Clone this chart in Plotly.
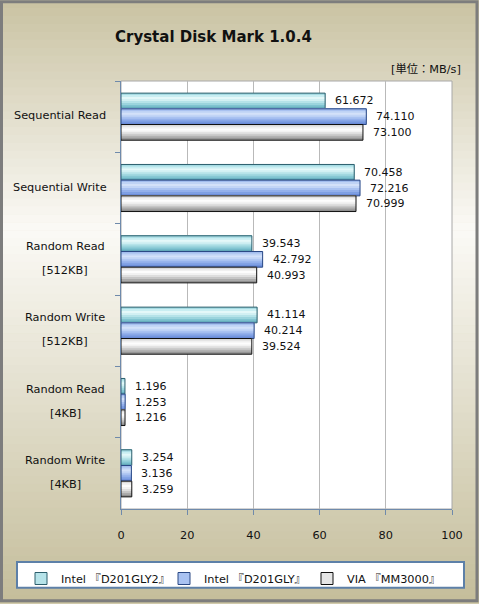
import numpy as np
import plotly.graph_objects as go

# ---------------- data ----------------
categories = ["Sequential Read", "Sequential Write", "Random Read [512KB]",
              "Random Write [512KB]", "Random Read [4KB]", "Random Write [4KB]"]
label_line1 = ["Sequential Read", "Sequential Write", "Random Read",
               "Random Write", "Random Read", "Random Write"]
label_line2 = ["", "", "[512KB]", "[512KB]", "[4KB]", "[4KB]"]
series_names = ["Intel 『D201GLY2』", "Intel 『D201GLY』", "VIA 『MM3000』"]
intel_d201gly2 = [61.672, 70.458, 39.543, 41.114, 1.196, 3.254]
intel_d201gly = [74.110, 72.216, 42.792, 40.214, 1.253, 3.136]
via_mm3000 = [73.100, 70.999, 40.993, 39.524, 1.216, 3.259]
series_values = [intel_d201gly2, intel_d201gly, via_mm3000]
x_ticks = [0, 20, 40, 60, 80, 100]

# ---------------- styling ----------------
W, H = 479, 604
ML, MR, MT, MB = 121, 27, 81, 94
PW, PH = W - ML - MR, H - MT - MB
FONT = "DejaVu Sans, Noto Sans CJK JP"
AXC = "#6f8aab"


def px_x(p):
    return (p - ML) / PW


def px_y(p):
    return (H - MB - p) / PH


profiles = [
    ["#a6dbe3", "#c9eef2", "#e4f8f9", "#d2f0f3", "#b6e3e9", "#9bd4dd", "#80c4d1", "#66adbd"],
    ["#a2bdee", "#bfd3f5", "#d3e1f9", "#c2d5f6", "#a9c2f1", "#93b0eb", "#7e9fe3", "#6b8cd9"],
    ["#dadada", "#f1f1f1", "#fdfdfd", "#f2f2f2", "#dedede", "#c6c6c6", "#ababab", "#8f8f8f"],
]
legend_fill = ["#b6e3e9", "#a9c2f1", "#e6e6e6"]
outlines = ["#2c5e6c", "#2a4884", "#111111"]
bw = 0.22
N = len(profiles[0])

fig = go.Figure()
for s, vals in enumerate(series_values):
    c = (s - 1) * bw
    top = c - bw / 2
    for k in range(N):
        wk = bw * (N - k) / N
        fig.add_trace(go.Bar(
            x=vals, y=categories, orientation="h",
            width=wk, offset=top,
            marker=dict(color=profiles[s][N - 1 - k], line=dict(width=0)),
            showlegend=False, hoverinfo="skip"))
    fig.add_trace(go.Bar(
        x=vals, y=categories, orientation="h", width=bw, offset=top,
        marker=dict(color="rgba(0,0,0,0)", line=dict(color=outlines[s], width=1)),
        showlegend=False, name=series_names[s]))
    # legend entry
    fig.add_trace(go.Bar(
        x=[None], y=[None], orientation="h", name=series_names[s],
        marker=dict(color=legend_fill[s], line=dict(color=outlines[s], width=1)),
        showlegend=True))

annotations = []
shifts = [-15.7, 0, 15.7]
for s, vals in enumerate(series_values):
    for cat, v in zip(categories, vals):
        annotations.append(dict(
            x=v, y=cat, xref="x", yref="y", text=f"{v:.3f}", showarrow=False,
            xanchor="left", yanchor="middle", xshift=8, yshift=-shifts[s],
            font=dict(family=FONT, size=11, color="#111")))

LBL = 11.3
for cat, l1, l2 in zip(categories, label_line1, label_line2):
    if l2:
        annotations.append(dict(x=px_x(65), y=cat, xref="paper", yref="y", text=l1,
                                showarrow=False, xanchor="center", yanchor="middle",
                                yshift=13, font=dict(family=FONT, size=LBL, color="#111")))
        annotations.append(dict(x=px_x(65), y=cat, xref="paper", yref="y", text=l2,
                                showarrow=False, xanchor="center", yanchor="middle",
                                yshift=-11, font=dict(family=FONT, size=LBL, color="#111")))
    else:
        annotations.append(dict(x=px_x(60), y=cat, xref="paper", yref="y", text=l1,
                                showarrow=False, xanchor="center", yanchor="middle",
                                yshift=1, font=dict(family=FONT, size=LBL, color="#111")))

annotations.append(dict(x=px_x(463), y=px_y(69), xref="paper", yref="paper",
                        text="[単位：MB/s]", showarrow=False, xanchor="right",
                        yanchor="middle", font=dict(family=FONT, size=11.3, color="#111")))

# background gradient strips
shapes = []
stops_y = [0, 230, 604]
stops_c = [(201, 194, 162), (251, 250, 246), (196, 189, 154)]
NS = 76
edges = np.linspace(0, H, NS + 1)
for i in range(NS):
    yc = (edges[i] + edges[i + 1]) / 2
    col = [int(round(np.interp(yc, stops_y, [c[j] for c in stops_c]))) for j in range(3)]
    shapes.append(dict(type="rect", xref="paper", yref="paper", layer="below",
                       x0=px_x(0), x1=px_x(W), y0=px_y(edges[i + 1] + 0.6), y1=px_y(edges[i]),
                       fillcolor=f"rgb({col[0]},{col[1]},{col[2]})", line=dict(width=0)))
# plot area
shapes.append(dict(type="rect", xref="paper", yref="paper", layer="below",
                   x0=0, x1=1, y0=0, y1=1, fillcolor="white",
                   line=dict(color="#a8a8a8", width=1)))
# legend box
shapes.append(dict(type="rect", xref="paper", yref="paper", layer="below",
                   x0=px_x(17), x1=px_x(464), y0=px_y(589), y1=px_y(563),
                   fillcolor="white", line=dict(color="#5d80a8", width=2)))
# outer frame
shapes.append(dict(type="rect", xref="paper", yref="paper", layer="above",
                   x0=px_x(1.5), x1=px_x(W - 2), y0=px_y(H - 2), y1=px_y(1.5),
                   fillcolor="rgba(0,0,0,0)", line=dict(color="#7d7d7d", width=3)))

fig.update_layout(
    width=W, height=H,
    margin=dict(l=ML, r=MR, t=MT, b=MB, pad=0),
    paper_bgcolor="#dcd6bc", plot_bgcolor="rgba(0,0,0,0)",
    barmode="overlay",
    font=dict(family=FONT, size=11, color="#111"),
    title=dict(text="<b>Crystal Disk Mark 1.0.4</b>", x=115 / W, xanchor="left",
               y=1 - 37 / H, yanchor="middle", xref="container", yref="container",
               font=dict(family=FONT, size=15, color="#111")),
    xaxis=dict(range=[0, 100], tickvals=x_ticks, ticktext=[str(t) for t in x_ticks],
               ticks="outside", ticklen=5, tickcolor=AXC, showline=True, linecolor=AXC,
               linewidth=1, showgrid=True, gridcolor="#b9b9b9", zeroline=False,
               ticklabelstandoff=10, tickfont=dict(family=FONT, size=11.3, color="#111")),
    yaxis=dict(type="category", categoryarray=categories, categoryorder="array",
               autorange="reversed", showticklabels=False, ticks="outside",
               tickson="boundaries", ticklen=5, tickcolor=AXC, showline=True,
               linecolor=AXC, linewidth=1, showgrid=False, zeroline=False),
    legend=dict(orientation="h", x=px_x(21), xanchor="left", y=px_y(564), yanchor="top",
                bgcolor="rgba(0,0,0,0)", borderwidth=0, entrywidth=98,
                entrywidthmode="pixels", font=dict(family=FONT, size=11.3, color="#111"),
                itemclick=False),
    annotations=annotations,
    shapes=shapes,
    showlegend=True,
)

fig.write_html("out.html")
